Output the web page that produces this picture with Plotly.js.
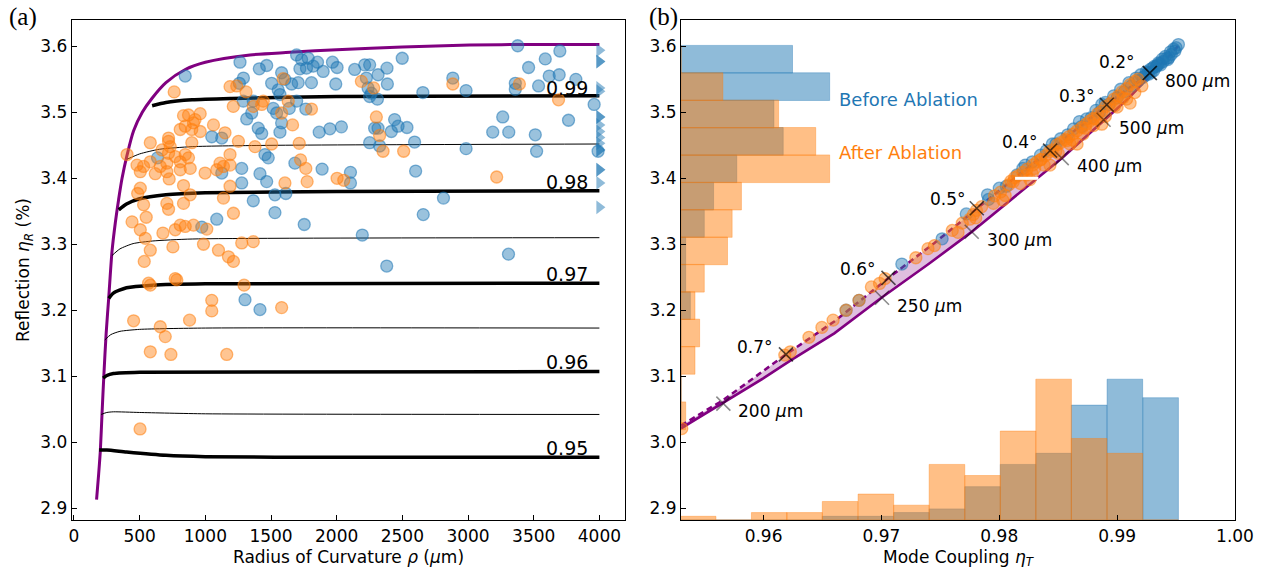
<!DOCTYPE html>
<html><head><meta charset="utf-8">
<script src="https://cdn.plot.ly/plotly-3.0.1.min.js"></script>
<style>html,body{margin:0;padding:0;background:#fff}</style>
</head><body><div id="chart" style="width:1263px;height:570px"></div>
<script>
// ---------- Panel (a) data ----------
const envelopeRho = [172,188,201,214,227,245,265,290,315,340,366,404,454,520,593,700,847,1000,1340,1644,2000,2500,3011,3500,4000];
const envelopeR   = [2.913,2.952,2.988,3.045,3.099,3.165,3.220,3.290,3.333,3.368,3.400,3.435,3.472,3.500,3.521,3.545,3.565,3.576,3.587,3.591,3.595,3.599,3.602,3.603,3.603];

const contourLevels = ['0.99','0.985','0.98','0.975','0.97','0.965','0.96','0.955','0.95'];
const contourRho = [
  [595,700,900,1200,2000,4000],
  [405,500,650,900,1500,4000],
  [341,400,500,700,1000,2000,4000],
  [290,350,450,600,900,4000],
  [265,300,400,600,1000,4000],
  [235,280,350,500,1000,4000],
  [222,250,300,500,4000],
  [207,250,300,500,1000,4000],
  [192,250,400,700,1000,2000,4000]
];
const contourR = [
  [3.510,3.515,3.519,3.521,3.524,3.525],
  [3.429,3.437,3.444,3.448,3.450,3.452],
  [3.352,3.361,3.369,3.375,3.378,3.380,3.381],
  [3.283,3.293,3.301,3.305,3.308,3.310],
  [3.218,3.226,3.234,3.238,3.240,3.241],
  [3.155,3.163,3.168,3.171,3.173,3.173],
  [3.097,3.101,3.104,3.106,3.107],
  [3.042,3.045,3.046,3.045,3.043,3.042],
  [2.988,2.988,2.985,2.980,2.978,2.977,2.977]
];
const contourLabels = ['0.99','0.98','0.97','0.96','0.95'];
const contourLabelR = [3.537,3.395,3.255,3.121,2.991];

const beforeRho = [1264,1411,1467,847,1290,1259,1581,1606,1505,1555,1568,1289,1365,1517,1543,1353,1315,1403,1429,1568,1049,1125,1454,1479,636,1277,1125,1277,1416,1467,1530,1613,
 1695,1733,1783,1720,1770,1821,1854,1897,1968,2003,2137,2213,2251,2226,2315,2383,2499,2386,1993,1808,1707,1657,2239,2264,2310,2251,2656,2884,2985,1695,1639,1765,1581,1867,1948,2036,2441,2289,2315,2416,2467,2535,2251,2327,2593,2985,1682,1889,2105,2105,2601,2813,
 3378,3699,3588,3461,3618,3694,3821,3360,3360,3537,3960,3264,3188,3310,3512,3765,3522,3990,
 1365,1530,1087,973,1302,1416,1753,2195,2381,2659,3308];
const beforeR = [3.576,3.566,3.571,3.555,3.552,3.544,3.560,3.550,3.544,3.534,3.527,3.517,3.517,3.506,3.499,3.499,3.490,3.476,3.468,3.470,3.463,3.461,3.436,3.431,3.431,3.415,3.408,3.393,3.407,3.395,3.375,3.377,
 3.587,3.580,3.582,3.566,3.567,3.570,3.576,3.562,3.576,3.568,3.565,3.572,3.572,3.552,3.557,3.567,3.582,3.543,3.543,3.545,3.545,3.543,3.537,3.529,3.520,3.524,3.530,3.552,3.533,3.517,3.506,3.505,3.484,3.470,3.475,3.478,3.489,3.476,3.476,3.471,3.479,3.477,3.454,3.449,3.455,3.445,3.423,3.414,3.409,3.393,3.411,3.370,
 3.601,3.593,3.581,3.568,3.555,3.557,3.550,3.544,3.535,3.540,3.512,3.493,3.470,3.470,3.466,3.488,3.441,3.441,
 3.366,3.348,3.338,3.326,3.216,3.201,3.330,3.314,3.267,3.345,3.285];
// points beyond the axis (drawn as arrows at the right edge)
const beyondR = [3.594,3.577,3.577,3.537,3.532,3.493,3.493,3.481,3.471,3.462,3.453,3.443,3.443,3.413,3.413,3.393,3.356];

const afterRho = [763,1188,1239,1310,1593,1213,1365,1429,1441,834,872,922,910,961,809,847,897,961,1062,1150,720,720,581,733,897,1252,1505,404,670,720,771,847,1188,581,480,530,657,707,809,872,1188,1112,505,619,707,809,885,998,1087,1138,725,485,505,834,1188,1606,1378,
 2188,2282,2884,1631,1808,1581,1664,2302,2327,1715,2353,2510,1725,1765,1775,2003,2054,
 3391,3689,3218,
 530,707,720,834,885,1138,1214,442,550,505,543,677,771,809,847,910,1011,986,753,581,535,1100,1176,1214,1277,1365,568,581,771,783,1295,1049,1049,1581,454,880,657,695,581,738,1163,503];
const afterR = [3.531,3.539,3.540,3.531,3.551,3.509,3.509,3.512,3.517,3.495,3.496,3.489,3.484,3.498,3.474,3.479,3.474,3.471,3.481,3.469,3.461,3.456,3.454,3.448,3.454,3.456,3.452,3.436,3.443,3.438,3.433,3.436,3.436,3.425,3.420,3.418,3.418,3.423,3.425,3.431,3.420,3.423,3.410,3.407,3.410,3.413,3.415,3.408,3.413,3.418,3.399,3.377,3.385,3.389,3.388,3.393,3.448,
 3.547,3.537,3.543,3.517,3.505,3.499,3.481,3.493,3.465,3.453,3.441,3.441,3.428,3.415,3.395,3.400,3.397,
 3.543,3.519,3.402,
 3.360,3.362,3.353,3.362,3.375,3.370,3.347,3.334,3.341,3.322,3.309,3.317,3.322,3.329,3.327,3.329,3.323,3.300,3.296,3.291,3.274,3.291,3.281,3.274,3.302,3.304,3.241,3.238,3.248,3.246,3.238,3.215,3.199,3.204,3.184,3.185,3.175,3.160,3.137,3.133,3.133,3.020];

// ---------- Panel (b) data ----------
const angleCurveT = [0.9530,0.9566,0.9619,0.9660,0.9706,0.9745,0.9781,0.9812,0.9843,0.9868,0.9892,0.9910,0.9928,0.9940,0.9953];
const angleCurveR = [3.0254,3.064,3.133,3.183,3.249,3.302,3.354,3.399,3.4425,3.479,3.5127,3.537,3.5586,3.578,3.6028];
const rhoCurveT = [0.9530,0.9566,0.9600,0.9624,0.9660,0.9700,0.9740,0.9776,0.9815,0.9853,0.9890,0.9910,0.9926];
const rhoCurveR = [3.021,3.0597,3.097,3.125,3.165,3.219,3.270,3.318,3.375,3.4304,3.4895,3.522,3.552];

const angleMarkLabels = ['0.2°','0.3°','0.4°','0.5°','0.6°','0.7°'];
const angleMarkT = [0.99276,0.98912,0.98431,0.97809,0.9706,0.9619];
const angleMarkR = [3.5596,3.5115,3.442,3.3546,3.249,3.133];
const angleLabelT = [0.99171,0.98827,0.98346,0.97737,0.96968,0.96095];
const angleLabelR = [3.577,3.525,3.4543,3.368,3.2624,3.1445];

const rhoMarkLabels = ['800','500','400','300','250','200'];
const rhoMarkT = [0.99279,0.98885,0.9853,0.97766,0.97005,0.95659];
const rhoMarkR = [3.5596,3.4887,3.4305,3.319,3.219,3.0585];
const rhoLabelT = [0.99392,0.98997,0.98643,0.97879,0.97117,0.95763];
const rhoLabelR = [3.547,3.477,3.419,3.3065,3.2062,3.0474];

const beforeT = [0.97173,0.97515,0.9772,0.97909,0.9806,0.982,0.9835,0.9848,0.9858,0.98697,0.9878,0.9885,0.9893,0.9900,0.9906,0.9912,0.9918,0.99246,0.9928,0.99314,0.9935,0.99383,0.9941,0.99452,0.9948,0.9952,0.9927,0.9931,0.9937,0.9943,0.9946,0.9950,0.9922,0.9924,0.9930,0.9934,0.9681,0.9670,
 0.9800,0.9815,0.9828,0.9840,0.9852,0.9863,0.9874,0.9882,0.9890,0.9897,0.9903,0.9910,0.9916,0.9920,0.9926,0.9933,0.9939,0.9944,0.9949,0.9929,0.9936,0.9942,
 0.9790,0.9822,0.9845,0.9868,0.9887];
const beforeTR = [3.270,3.3083,3.346,3.368,3.388,3.415,3.435,3.452,3.466,3.4785,3.492,3.500,3.512,3.522,3.531,3.540,3.548,3.5613,3.565,3.5696,3.575,3.5807,3.585,3.5917,3.596,3.6028,3.558,3.563,3.572,3.580,3.588,3.598,3.553,3.556,3.567,3.571,3.215,3.200,
 3.385,3.405,3.425,3.442,3.460,3.475,3.490,3.503,3.515,3.525,3.535,3.545,3.552,3.557,3.560,3.569,3.577,3.583,3.593,3.561,3.574,3.582,
 3.375,3.420,3.452,3.486,3.512];
const afterT = [0.95306,0.9618,0.96227,0.96385,0.96495,0.9659,0.967,0.9681,0.96915,0.96984,0.97031,0.97292,0.97395,0.9745,0.97601,0.97686,0.9775,0.97806,0.9785,0.9796,0.9801,0.9808,0.98098,0.9813,0.9816,0.9820,0.98235,0.98286,0.9832,0.98355,0.9839,0.98423,0.9845,0.98492,0.9852,0.9856,0.9859,0.98629,0.9866,0.9870,0.98735,0.98766,0.988,0.98835,0.9887,0.98903,0.9894,0.98972,0.9901,0.9904,0.9908,0.99109,0.9915,0.99177,0.9823,0.9848,0.9873,0.9898,0.9830,0.9862,
 0.9765,0.9780,0.9795,0.9805,0.9818,0.9828,0.9838,0.9850,0.9860,0.9871,0.9880,0.9890,0.9900,0.9908,0.9915,0.9921,0.9778,0.9812,0.9835,0.9857,0.9882,0.9905,
 0.9803,0.9826,0.9843,0.9866,0.9887,0.9911];
const afterTR = [3.0206,3.132,3.137,3.159,3.174,3.185,3.200,3.215,3.2354,3.2406,3.248,3.2796,3.2934,3.298,3.321,3.332,3.338,3.3514,3.357,3.3735,3.379,3.390,3.3956,3.401,3.404,3.409,3.414,3.4204,3.425,3.4287,3.434,3.44,3.443,3.451,3.454,3.459,3.463,3.4674,3.472,3.477,3.482,3.4867,3.491,3.4978,3.502,3.5088,3.513,3.5199,3.525,3.531,3.536,3.542,3.547,3.5503,3.405,3.441,3.476,3.510,3.415,3.458,
 3.318,3.340,3.362,3.374,3.392,3.407,3.420,3.438,3.452,3.467,3.480,3.494,3.508,3.520,3.530,3.540,3.345,3.395,3.428,3.457,3.490,3.522,
 3.367,3.398,3.420,3.452,3.482,3.514];

// histogram of reflection (bins low -> high), counts
const rBinEdges = [3.019,3.061,3.103,3.145,3.186,3.228,3.269,3.311,3.352,3.394,3.435,3.477,3.518,3.560,3.601];
const rHistBefore = [0,0,0,0,2,1,1,5,7,12,22,20,32,24];
const rHistAfter  = [1,0,3,4,3,5,10,11,13,32,29,21,9,0];
// histogram of mode coupling (bins low -> high), counts
const tBinEdges = [0.95294,0.95596,0.95897,0.96199,0.96497,0.96802,0.97104,0.97405,0.97707,0.98009,0.98310,0.98612,0.98913,0.99218,0.9952];
const tHistBefore = [0,0,0,0,1,1,2,3,9,15,18,31,38,33];
const tHistAfter  = [1,0,2,2,5,7,4,15,12,24,38,22,18,0];

// ---------- styling ----------
const BLUE='#1f77b4', ORANGE='#ff7f0e', PURPLE='#800080';
const blueFill='rgba(31,119,180,0.45)', orangeFill='rgba(255,127,14,0.45)';
const T_MIN=0.953, R_MIN=2.882, R_MAX=3.640;
const hCountUnit = 0.000394;   // eta_T units per count (horizontal histogram)
const vCountUnit = 0.005618;   // eta_R units per count (vertical histogram)
const MS = 12;

const traces = [];
// panel (a)
traces.push({x:envelopeRho, y:envelopeR, mode:'lines', line:{color:PURPLE, width:3, shape:'spline', smoothing:0.8}, xaxis:'x', yaxis:'y', hoverinfo:'skip'});
contourRho.forEach((xs,i)=>{
  const thick = contourLevels[i].length===4;
  traces.push({x:xs, y:contourR[i], mode:'lines', line:{color:'black', width: thick?3.5:1, shape:'spline', smoothing:0.6}, xaxis:'x', yaxis:'y', hoverinfo:'skip'});
});
traces.push({x:beforeRho, y:beforeR, mode:'markers', marker:{size:MS, color:blueFill, line:{color:'rgba(31,119,180,0.55)', width:1.3}}, xaxis:'x', yaxis:'y'});
traces.push({x:beyondR.map(()=>4000), y:beyondR, mode:'markers', marker:{symbol:'triangle-right', size:12, color:'rgba(31,119,180,0.5)', line:{width:0}}, xaxis:'x', yaxis:'y', cliponaxis:false});
traces.push({x:afterRho, y:afterR, mode:'markers', marker:{size:MS, color:orangeFill, line:{color:'rgba(255,127,14,0.55)', width:1.3}}, xaxis:'x', yaxis:'y'});

// panel (b) histograms
const rCenters = rBinEdges.slice(0,-1).map((e,i)=>(e+rBinEdges[i+1])/2);
const rW = rBinEdges[1]-rBinEdges[0];
const tCenters = tBinEdges.slice(0,-1).map((e,i)=>(e+tBinEdges[i+1])/2);
const tW = tBinEdges[1]-tBinEdges[0];
traces.push({type:'bar', orientation:'h', y:rCenters, x:rHistBefore.map(c=>c*hCountUnit), base:T_MIN, width:rW,
  marker:{color:'rgba(31,119,180,0.5)', line:{color:'rgba(31,119,180,0.6)', width:0.6}}, xaxis:'x2', yaxis:'y2', hoverinfo:'skip'});
traces.push({type:'bar', orientation:'h', y:rCenters, x:rHistAfter.map(c=>c*hCountUnit), base:T_MIN, width:rW,
  marker:{color:'rgba(255,127,14,0.5)', line:{color:'rgba(255,127,14,0.6)', width:0.6}}, xaxis:'x2', yaxis:'y2', hoverinfo:'skip'});
traces.push({type:'bar', x:tCenters, y:tHistBefore.map(c=>c*vCountUnit), base:R_MIN, width:tW,
  marker:{color:'rgba(31,119,180,0.5)', line:{color:'rgba(31,119,180,0.6)', width:0.6}}, xaxis:'x2', yaxis:'y2', hoverinfo:'skip'});
traces.push({type:'bar', x:tCenters, y:tHistAfter.map(c=>c*vCountUnit), base:R_MIN, width:tW,
  marker:{color:'rgba(255,127,14,0.5)', line:{color:'rgba(255,127,14,0.6)', width:0.6}}, xaxis:'x2', yaxis:'y2', hoverinfo:'skip'});

// shaded band between the two model curves
traces.push({x:rhoCurveT.concat(angleCurveT.slice().reverse()), y:rhoCurveR.concat(angleCurveR.slice().reverse()),
  mode:'lines', fill:'toself', fillcolor:'rgba(128,0,128,0.25)', line:{width:0}, xaxis:'x2', yaxis:'y2', hoverinfo:'skip'});
traces.push({x:rhoCurveT, y:rhoCurveR, mode:'lines', line:{color:PURPLE, width:2.6}, xaxis:'x2', yaxis:'y2', hoverinfo:'skip'});
traces.push({x:angleCurveT, y:angleCurveR, mode:'lines', line:{color:PURPLE, width:2.6, dash:'6px,4px'}, xaxis:'x2', yaxis:'y2', hoverinfo:'skip'});
traces.push({x:beforeT, y:beforeTR, mode:'markers', marker:{size:MS, color:blueFill, line:{color:'rgba(31,119,180,0.55)', width:1.3}}, xaxis:'x2', yaxis:'y2'});
traces.push({x:afterT, y:afterTR, mode:'markers', marker:{size:MS, color:orangeFill, line:{color:'rgba(255,127,14,0.55)', width:1.3}}, xaxis:'x2', yaxis:'y2'});
traces.push({x:rhoMarkT, y:rhoMarkR, mode:'markers', marker:{symbol:'x-thin', size:14, line:{color:'rgba(0,0,0,0.45)', width:1.6}}, xaxis:'x2', yaxis:'y2', hoverinfo:'skip'});
traces.push({x:angleMarkT, y:angleMarkR, mode:'markers', marker:{symbol:'x-thin', size:14, line:{color:'rgba(0,0,0,0.65)', width:1.6}}, xaxis:'x2', yaxis:'y2', hoverinfo:'skip'});

const annotations = [];
contourLabels.forEach((t,i)=>annotations.push({x:3750, y:contourLabelR[i], xref:'x', yref:'y', text:t, showarrow:false, font:{size:19, color:'black'}}));
angleMarkLabels.forEach((t,i)=>annotations.push({x:angleLabelT[i], y:angleLabelR[i], xref:'x2', yref:'y2', text:t, showarrow:false, xanchor:'right', font:{size:17}}));
rhoMarkLabels.forEach((t,i)=>annotations.push({x:rhoLabelT[i], y:rhoLabelR[i], xref:'x2', yref:'y2', text:t+' <i>μ</i>m', showarrow:false, xanchor:'left', font:{size:17}}));
annotations.push({x:0.96627, y:3.519, xref:'x2', yref:'y2', text:'Before Ablation', showarrow:false, xanchor:'left', font:{size:18, color:BLUE}});
annotations.push({x:0.96627, y:3.439, xref:'x2', yref:'y2', text:'After Ablation', showarrow:false, xanchor:'left', font:{size:18, color:ORANGE}});
annotations.push({x:-0.056, y:1.038, xref:'paper', yref:'paper', xanchor:'left', yanchor:'top', text:'(a)', showarrow:false, font:{family:'Liberation Serif, DejaVu Serif, serif', size:25}});
annotations.push({x:0.4945, y:1.038, xref:'paper', yref:'paper', xanchor:'left', yanchor:'top', text:'(b)', showarrow:false, font:{family:'Liberation Serif, DejaVu Serif, serif', size:25}});

const axBase = {ticks:'inside', ticklen:5, tickwidth:1, tickcolor:'black', showline:true, mirror:true, linecolor:'black', linewidth:1.2, showgrid:false, zeroline:false, tickfont:{size:17}};
const layout = {
  width:1263, height:570, margin:{l:72, r:28, t:20, b:50},
  paper_bgcolor:'white', plot_bgcolor:'white', showlegend:false, barmode:'overlay',
  font:{family:'DejaVu Sans, sans-serif', size:17, color:'black'},
  xaxis:Object.assign({}, axBase, {domain:[0,0.4755], range:[-15,4195], tickvals:[0,500,1000,1500,2000,2500,3000,3500,4000],
    title:{text:'Radius of Curvature <i>ρ</i> (<i>μ</i>m)', font:{size:17}, standoff:6}}),
  yaxis:Object.assign({}, axBase, {domain:[0,1], range:[R_MIN,R_MAX], tickvals:[2.9,3.0,3.1,3.2,3.3,3.4,3.5,3.6], tickformat:'.1f',
    title:{text:'Reflection <i>η<sub>R</sub></i> (%)', font:{size:17}, standoff:6}}),
  xaxis2:Object.assign({}, axBase, {domain:[0.5237,1], range:[T_MIN,1.0], anchor:'y2', tickvals:[0.96,0.97,0.98,0.99,1.00], tickformat:'.2f',
    title:{text:'Mode Coupling <i>η<sub>T</sub></i>', font:{size:17}, standoff:6}}),
  yaxis2:Object.assign({}, axBase, {domain:[0,1], range:[R_MIN,R_MAX], anchor:'x2', tickvals:[2.9,3.0,3.1,3.2,3.3,3.4,3.5,3.6], tickformat:'.1f'}),
  annotations:annotations,
  shapes:[{type:'line', xref:'x2', yref:'y2', x0:0.98134, x1:0.98332, y0:3.40, y1:3.40, line:{color:'white', width:3}}]
};
Plotly.newPlot('chart', traces, layout, {staticPlot:true, displayModeBar:false});
</script></body></html>
